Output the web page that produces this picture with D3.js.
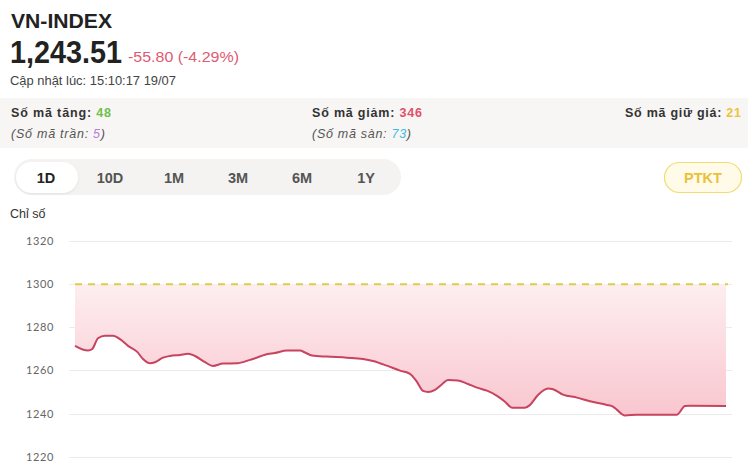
<!DOCTYPE html>
<html><head><meta charset="utf-8">
<script src="https://cdn.jsdelivr.net/npm/d3@7/dist/d3.min.js"></script>
<style>
html,body{margin:0;padding:0;background:#fff;}
svg{display:block;font-family:"Liberation Sans",Arial,sans-serif;}
</style></head>
<body>
<svg id="c" width="748" height="474"></svg>
<script>
// ---- data ----
const title = "VN-INDEX";
const lastValue = "1,243.51";
const change = "-55.80 (-4.29%)";
const updated = "Cập nhật lúc: 15:10:17 19/07";
const refValue = 1300;
const yTicks = [1220, 1240, 1260, 1280, 1300, 1320];
const tabs = ["1D", "10D", "1M", "3M", "6M", "1Y"];
// minutes into session
const times = [0,5.2,6.8,9.2,12,15.2,18,21.2,24.8,27.2,30,32,35.2,38,42,45.2,48,52,55.2,59.2,64.8,70,71.2,76,80,84.8,90,92,94.8,100.8,108.8,115.2,119.2,124.8,130,134,136.7,139.2,141.2,144,146.8,149.2,153.2,157.2,160.8,164.8,168.8,172,174.8,180,182,185.2,189.2,191.2,195.2,200.8,206,212.8,215.2,216.8,220,224.8,240.8,244,246,260.4];
const values = [1271.4,1269.2,1269.8,1274.9,1276.1,1276.1,1274.5,1271.4,1268.7,1265.3,1263.3,1263.8,1265.9,1266.7,1267.2,1267.7,1266.7,1263.8,1262.1,1263.2,1263.3,1264.9,1265.3,1267.3,1268.1,1269.2,1269.2,1268.3,1266.9,1266.4,1265.9,1265.3,1264.4,1262.2,1259.9,1258.4,1254.8,1250.5,1250.0,1251.0,1253.6,1255.6,1255.3,1253.7,1252.0,1250.6,1248.2,1245.5,1242.7,1242.7,1244.0,1248.6,1251.6,1251.3,1248.8,1247.4,1245.7,1244.0,1243.2,1241.7,1239.1,1239.5,1239.5,1243.5,1243.6,1243.5];

const data = times.map((t,i)=>({t, v: values[i]}));
const svg = d3.select("#c");

// header
svg.append("text").attr("x",11).attr("y",28).attr("font-size",21).attr("font-weight","bold").attr("fill","#222")
  .attr("textLength",101).attr("lengthAdjust","spacingAndGlyphs").text(title);
svg.append("text").attr("x",10).attr("y",63).attr("font-size",31).attr("font-weight","bold").attr("fill","#222")
  .attr("textLength",112).attr("lengthAdjust","spacingAndGlyphs").text(lastValue);
svg.append("text").attr("x",128).attr("y",62).attr("font-size",15.5).attr("fill","#e05a72")
  .attr("textLength",111).attr("lengthAdjust","spacingAndGlyphs").text(change);
svg.append("text").attr("x",10).attr("y",85).attr("font-size",12.5).attr("fill","#444")
  .attr("textLength",166).attr("lengthAdjust","spacingAndGlyphs").text(updated);

// stats band
svg.append("rect").attr("x",0).attr("y",98).attr("width",748).attr("height",50).attr("fill","#f7f6f4");
function stat(x, y, label, val, col, len, anchor, italic){
  const t = svg.append("text").attr("x",x).attr("y",y).attr("font-size",12.5).attr("text-anchor",anchor||"start")
    .attr("textLength",len).attr("lengthAdjust","spacing");
  if(italic){ t.attr("font-style","italic").attr("fill","#555"); }
  else { t.attr("font-weight","bold").attr("fill","#333"); }
  t.append("tspan").text(label);
  t.append("tspan").attr("fill",col).text(val);
  if(italic) t.append("tspan").text(")");
}
stat(11,117,"Số mã tăng: ","48","#6cc04a",100);
stat(11,138,"(Số mã trần: ","5","#b57edc",94,"start",true);
stat(312,117,"Số mã giảm: ","346","#e0506a",110);
stat(312,138,"(Số mã sàn: ","73","#3dbde0",99,"start",true);
stat(741,117,"Số mã giữ giá: ","21","#e8c53a",116,"end");

// tabs
svg.append("rect").attr("x",14).attr("y",159).attr("width",387).attr("height",36).attr("rx",18).attr("fill","#f4f3f1");
svg.append("rect").attr("x",16).attr("y",162).attr("width",62).attr("height",31).attr("rx",15.5).attr("fill","#fff")
  .style("filter","drop-shadow(0 1px 1px rgba(0,0,0,0.08))");
const tabX = d3.scalePoint().domain(tabs).range([46,366]);
svg.selectAll(".tab").data(tabs).join("text").attr("class","tab")
  .attr("x",d=>tabX(d)).attr("y",183).attr("text-anchor","middle").attr("font-size",14.5).attr("font-weight","bold")
  .attr("fill",(d,i)=>i===0?"#222":"#555").text(d=>d);

// PTKT
svg.append("rect").attr("x",664.5).attr("y",162.5).attr("width",77).attr("height",30).attr("rx",15).attr("fill","#fffbe8").attr("stroke","#f0dc72").attr("stroke-width",1.2);
svg.append("text").attr("x",703).attr("y",183).attr("text-anchor","middle").attr("font-size",14.5).attr("font-weight","bold").attr("fill","#e8c23a").text("PTKT");

svg.append("text").attr("x",10).attr("y",218).attr("font-size",12.5).attr("fill","#333").text("Chỉ số");

// chart
const x = d3.scaleLinear().domain([0,260.4]).range([75,726]);
const y = d3.scaleLinear().domain([1220,1320]).range([456.7,241]);

const yAxis = d3.axisLeft(y).tickValues(yTicks).tickSize(0).tickPadding(0).tickFormat(d3.format("d"));
const ga = svg.append("g").attr("transform","translate(54,0)").call(yAxis);
ga.select(".domain").remove();
ga.selectAll("text").attr("font-size",11).attr("fill","#666").attr("letter-spacing","0.6px").attr("font-family","Lato, 'Liberation Sans', sans-serif");

svg.append("g").selectAll("line").data(yTicks).join("line")
  .attr("x1",69).attr("x2",732).attr("y1",d=>Math.round(y(d))+0.5).attr("y2",d=>Math.round(y(d))+0.5)
  .attr("stroke","#ebebeb").attr("stroke-width",1);

const defs = svg.append("defs");
const grad = defs.append("linearGradient").attr("id","g1").attr("gradientUnits","userSpaceOnUse")
  .attr("x1",0).attr("x2",0).attr("y1",y(refValue)).attr("y2",y(d3.min(values)));
grad.append("stop").attr("offset",0).attr("stop-color","#fdeef0");
grad.append("stop").attr("offset",1).attr("stop-color","#f9c6cf");

const curve = d3.curveMonotoneX;
svg.append("path").datum(data)
  .attr("d", d3.area().x(d=>x(d.t)).y0(y(refValue)).y1(d=>y(d.v)).curve(curve))
  .attr("fill","url(#g1)");

svg.append("line").attr("x1",x(0)).attr("x2",728).attr("y1",y(refValue)).attr("y2",y(refValue))
  .attr("stroke","#dccf48").attr("stroke-width",2).attr("stroke-dasharray","7,6");

svg.append("path").datum(data)
  .attr("d", d3.line().x(d=>x(d.t)).y(d=>y(d.v)).curve(curve))
  .attr("fill","none").attr("stroke","#c8435f").attr("stroke-width",2);
</script>
</body></html>
